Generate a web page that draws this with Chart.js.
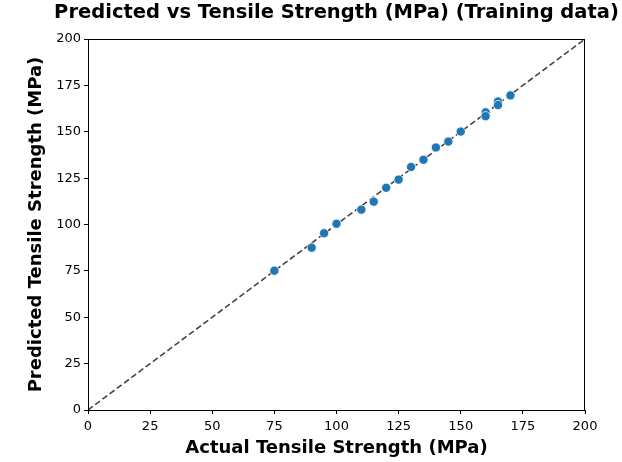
<!DOCTYPE html>
<html>
<head>
<meta charset="utf-8">
<script src="https://cdn.jsdelivr.net/npm/chart.js@4.4.1/dist/chart.umd.min.js"></script>
<style>
  html, body { margin: 0; padding: 0; background: #fff; }
  #wrap { width: 622px; height: 462px; position: relative; }
</style>
</head>
<body>
<div id="wrap"><canvas id="chart" width="622" height="462"></canvas></div>
<script>
// values
const actual    = [75, 90, 95, 100, 110, 115, 120, 125, 130, 135, 140, 145, 150, 160, 160, 165, 165, 170];
const predicted = [75.1, 87.5, 95.3, 100.4, 108, 112.3, 119.8, 124.2, 131, 134.9, 141.5, 144.7, 150.1, 160.5, 158.4, 166.3, 164.4, 169.6];
const idealLine = [0, 200];
const axisMin = 0, axisMax = 200, axisStep = 25;

const titleText = 'Predicted vs Tensile Strength (MPa) (Training data)';
const xTitle = 'Actual Tensile Strength (MPa)';
const yTitle = 'Predicted Tensile Strength (MPa)';

const points = actual.map((a, i) => ({ x: a, y: predicted[i] }));
const linePts = idealLine.map(v => ({ x: v, y: v }));

// title centred on the axes + box frame
const framePlugin = {
    id: 'frame',
    afterDraw(chart) {
        const { ctx, chartArea: ca } = chart;
        ctx.save();
        ctx.strokeStyle = '#000';
        ctx.lineWidth = 1;
        ctx.strokeRect(ca.left + 0.5, ca.top + 0.5, ca.right - ca.left - 1, ca.bottom - ca.top);
        ctx.fillStyle = '#000';
        ctx.font = 'bold 19.5px "DejaVu Sans"';
        ctx.textAlign = 'center';
        ctx.textBaseline = 'middle';
        ctx.fillText(titleText, (ca.left + ca.right) / 2, 13);
        ctx.restore();
    }
};

Chart.defaults.font.family = '"DejaVu Sans"';
Chart.defaults.color = '#000';

new Chart(document.getElementById('chart'), {
    type: 'scatter',
    data: {
        datasets: [
            {
                type: 'scatter',
                data: points,
                backgroundColor: '#1f77b4',
                borderColor: '#ffffff',
                borderWidth: 0.75,
                pointRadius: 4.6,
                order: 1
            },
            {
                type: 'line',
                data: linePts,
                borderColor: '#444444',
                borderWidth: 1.6,
                borderDash: [6, 3],
                pointRadius: 0,
                fill: false,
                order: 2
            }
        ]
    },
    plugins: [framePlugin],
    options: {
        responsive: false,
        animation: false,
        layout: { padding: { top: 39, right: 37, left: 26, bottom: 0 } },
        plugins: { legend: { display: false }, tooltip: { enabled: false }, title: { display: false } },
        scales: {
            x: {
                type: 'linear', min: axisMin, max: axisMax,
                afterFit(s) { s.height = 52; },
                ticks: { stepSize: axisStep, font: { size: 13 }, padding: 5, maxRotation: 0 },
                grid: { drawOnChartArea: false, tickLength: 4, color: '#000' },
                border: { color: '#000' },
                title: { display: true, text: xTitle, font: { size: 18, weight: 'bold' }, padding: { top: 0, bottom: 3 } }
            },
            y: {
                type: 'linear', min: axisMin, max: axisMax,
                afterFit(s) { s.width = 62; },
                ticks: { stepSize: axisStep, font: { size: 13 }, padding: 3 },
                grid: { drawOnChartArea: false, tickLength: 4, color: '#000' },
                border: { color: '#000' },
                title: { display: true, text: yTitle, font: { size: 18, weight: 'bold' }, padding: { top: 0, bottom: 0 } }
            }
        }
    }
});
</script>
</body>
</html>
